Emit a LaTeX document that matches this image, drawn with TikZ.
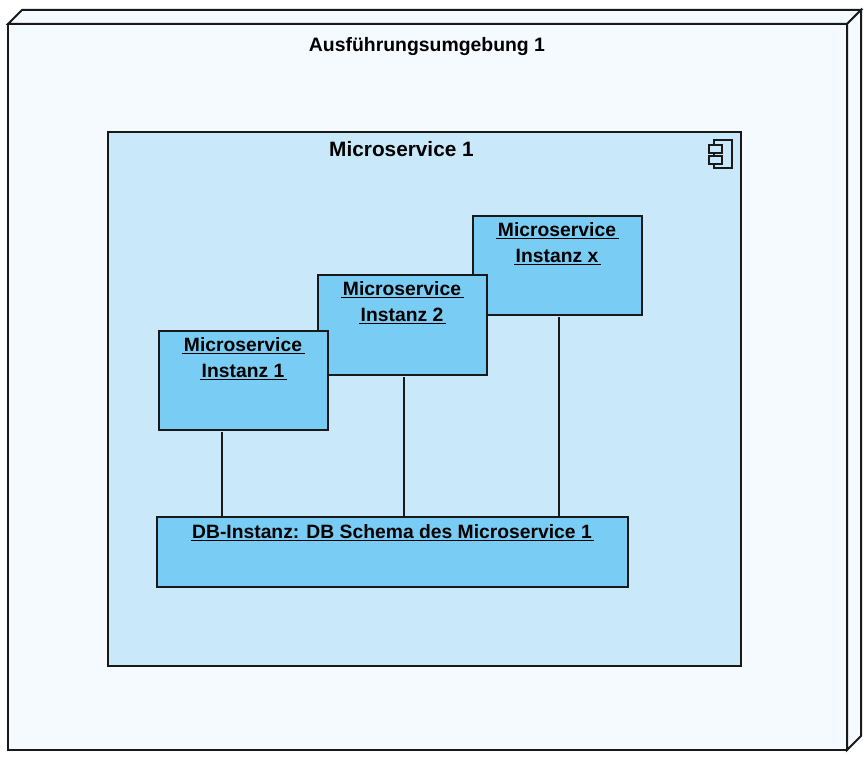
\documentclass[tikz,border=0pt]{standalone}
\usepackage{fontspec}
\setmainfont{Liberation Sans}
\newcommand{\ulbl}[1]{\underline{\kern1.5pt #1\kern2.5pt}}
\tikzset{
  px/.style={x=1pt,y=-1pt},
  edge/.style={draw=black!90,line width=2pt,line join=miter},
  nodeface/.style={edge,fill=envfill},
  boxstyle/.style={edge,fill=boxfill,anchor=north west,inner sep=0pt,outer sep=0pt,minimum width=#1},
  iconpart/.style={edge,fill=compfill,anchor=north west,inner sep=0pt,outer sep=0pt},
  titletext/.style={font=\bfseries\fontsize{19.4}{22}\selectfont,anchor=base,inner sep=0pt},
  comptext/.style={font=\bfseries\fontsize{20.8}{22}\selectfont,anchor=base,inner sep=0pt},
  boxtext/.style={font=\bfseries\fontsize{19.3}{26}\selectfont,align=center,anchor=north,inner sep=0pt},
  link/.style={draw=black!90,line width=2pt,shorten <=2pt,shorten >=1pt},
}
\definecolor{envfill}{HTML}{F5FAFF}
\definecolor{compfill}{HTML}{C9E9FB}
\definecolor{boxfill}{HTML}{79CDF5}
\begin{document}
\begin{tikzpicture}[px]
\useasboundingbox (0,0) rectangle (868,757);
% execution environment (cuboid)
\node[nodeface,anchor=north west,inner sep=0pt,outer sep=0pt,minimum width=839pt,minimum height=726pt] (env) at (8,24) {};
\filldraw[nodeface] (env.north west) -- (22,10) -- (861,10) -- (env.north east) -- cycle;
\filldraw[nodeface] (env.north east) -- (861,10) -- (861,736) -- (env.south east) -- cycle;
\node[titletext] (envt) at (427,52) {Ausführungsumgebung 1};
% component
\node[edge,fill=compfill,anchor=north west,inner sep=0pt,outer sep=0pt,minimum width=633pt,minimum height=534pt] (comp) at (108,132) {};
\node[comptext] (compt) at (401.5,156.5) {Microservice 1};
% component icon
\node[iconpart,minimum width=18pt,minimum height=28pt] (ico) at (714,140) {};
\node[iconpart,minimum width=13pt,minimum height=8pt] (icoa) at (709,145) {};
\node[iconpart,minimum width=13pt,minimum height=8pt] (icob) at (709,156) {};
% instances (back to front)
\node[boxstyle=169pt,minimum height=99pt] (ix) at (473,216) {};
\node[boxstyle=169pt,minimum height=100pt] (i2) at (318,275) {};
\node[boxstyle=169pt,minimum height=99pt] (i1) at (159,331) {};
\node[boxstyle=471pt,minimum height=70pt] (db) at (157,517) {};
\node[boxtext] (ixt) at (557.5,222.5) {\ulbl{Microservice}\\\ulbl{Instanz x}};
\node[boxtext] (i2t) at (402.5,281.5) {\ulbl{Microservice}\\\ulbl{Instanz 2}};
\node[boxtext] (i1t) at (243.5,337.5) {\ulbl{Microservice}\\\ulbl{Instanz 1}};
\node[boxtext] (dbt) at (392.5,524) {\ulbl{DB-Instanz: DB Schema des Microservice 1}};
% connectors
\coordinate (c1) at (222,450);
\coordinate (c2) at (404,450);
\coordinate (c3) at (559,450);
\draw[link] (c1 |- i1.south) -- (c1 |- db.north);
\draw[link] (c2 |- i2.south) -- (c2 |- db.north);
\draw[link] (c3 |- ix.south) -- (c3 |- db.north);
\end{tikzpicture}
\end{document}
